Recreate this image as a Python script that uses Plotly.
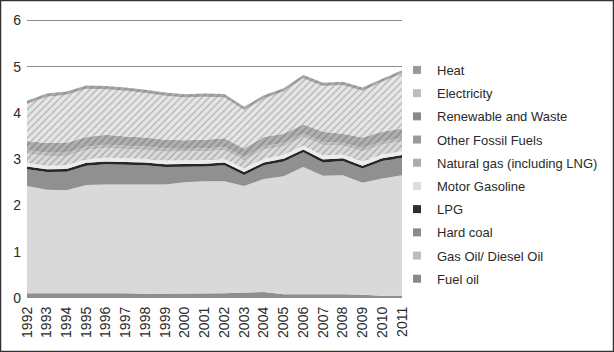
import plotly.graph_objects as go

years = list(range(1992, 2012))

fuel_oil = [0.10, 0.10, 0.10, 0.11, 0.10, 0.10, 0.09, 0.09, 0.09, 0.09,
            0.10, 0.12, 0.13, 0.08, 0.08, 0.09, 0.08, 0.07, 0.05, 0.05]
gas_diesel = [2.32, 2.24, 2.23, 2.33, 2.35, 2.35, 2.36, 2.36, 2.41, 2.43,
              2.42, 2.30, 2.44, 2.55, 2.75, 2.55, 2.57, 2.42, 2.53, 2.60]
hard_coal = [0.36, 0.38, 0.40, 0.42, 0.44, 0.43, 0.42, 0.38, 0.33, 0.32,
             0.35, 0.24, 0.30, 0.32, 0.32, 0.29, 0.31, 0.31, 0.38, 0.38]
lpg = [0.06, 0.06, 0.06, 0.06, 0.06, 0.06, 0.06, 0.06, 0.06, 0.06,
       0.06, 0.06, 0.06, 0.06, 0.06, 0.06, 0.06, 0.06, 0.06, 0.06]
motor_gasoline = [0.08, 0.08, 0.08, 0.08, 0.08, 0.08, 0.08, 0.08, 0.08, 0.08,
                  0.08, 0.08, 0.08, 0.08, 0.08, 0.09, 0.08, 0.09, 0.08, 0.08]
natural_gas = [0.20, 0.21, 0.20, 0.20, 0.21, 0.20, 0.19, 0.19, 0.19, 0.19,
               0.19, 0.18, 0.20, 0.19, 0.19, 0.22, 0.19, 0.22, 0.21, 0.21]
other_fossil = [0.07, 0.07, 0.07, 0.07, 0.07, 0.07, 0.07, 0.07, 0.06, 0.06,
                0.06, 0.06, 0.07, 0.07, 0.07, 0.07, 0.06, 0.07, 0.07, 0.07]
renewable = [0.20, 0.21, 0.21, 0.21, 0.22, 0.20, 0.20, 0.19, 0.19, 0.19,
             0.19, 0.19, 0.20, 0.20, 0.20, 0.22, 0.20, 0.23, 0.21, 0.21]
electricity = [0.80, 1.00, 1.04, 1.04, 0.98, 0.99, 0.96, 0.95, 0.92, 0.93,
               0.89, 0.83, 0.83, 0.91, 1.00, 0.99, 1.05, 1.01, 1.08, 1.19]
heat = [0.07, 0.07, 0.07, 0.07, 0.07, 0.07, 0.07, 0.07, 0.07, 0.07,
        0.07, 0.07, 0.07, 0.07, 0.07, 0.07, 0.07, 0.07, 0.07, 0.07]

y_ticks = [0, 1, 2, 3, 4, 5, 6]

# name, values, fill colour, hatch (fg colour or None), legend marker colour
series = [
    ("Fuel oil", fuel_oil, "#8e8e8e", None, "#8a8a8a"),
    ("Gas Oil/ Diesel Oil", gas_diesel, "#d9d9da", None, "#bdbdbd"),
    ("Hard coal", hard_coal, "#909091", None, "#8a8a8a"),
    ("LPG", lpg, "#262626", None, "#2e2e2e"),
    ("Motor Gasoline", motor_gasoline, "#ececec", None, "#dcdcdc"),
    ("Natural gas (including LNG)", natural_gas, "#dadada", "#a8a8a8", "#ababab"),
    ("Other Fossil Fuels", other_fossil, "#c2c2c2", "#999999", "#9a9a9a"),
    ("Renewable and Waste", renewable, "#b0b0b0", "#858585", "#8a8a8a"),
    ("Electricity", electricity, "#e6e6e6", "#b2b2b2", "#bdbdbd"),
    ("Heat", heat, "#a9a9a9", "#8a8a8a", "#9a9a9a"),
]

fig = go.Figure()
for name, vals, col, hatch, mcol in series:
    kw = {}
    if hatch:
        kw["fillpattern"] = dict(shape="/", fgcolor=hatch, bgcolor=col,
                                 size=5, solidity=0.25, fillmode="replace")
    fig.add_trace(go.Scatter(
        x=years, y=vals, name=name, stackgroup="one", mode="lines",
        line=dict(width=0, color=col), fillcolor=col, showlegend=False,
        hoverinfo="skip", **kw))

# legend entries as small square markers (top of stack listed first)
for i, (name, vals, col, hatch, mcol) in enumerate(reversed(series)):
    fig.add_trace(go.Scatter(
        x=[None], y=[None], name=name, mode="markers",
        marker=dict(symbol="square", size=8, color=mcol),
        legendgroup=f"g{i}", showlegend=True))

T, B, L, R = 18, 54, 27, 212
PH = 352 - T - B
PW = 614 - L - R

fig.update_layout(
    width=614, height=352,
    margin=dict(l=L, r=R, t=T, b=B, autoexpand=False),
    paper_bgcolor="white", plot_bgcolor="white",
    font=dict(family="Liberation Sans, Arial, sans-serif", color="#333333"),
    showlegend=True,
    legend=dict(x=(397 - L) / PW, y=1 - (55 - T) / PH, xanchor="left",
                yanchor="top", traceorder="grouped",
                font=dict(size=13, color="#2a2a2a"),
                tracegroupgap=3.3, itemwidth=30, bgcolor="rgba(0,0,0,0)"),
    xaxis=dict(range=[1992, 2011], tickmode="array", tickvals=years,
               ticktext=[str(y) for y in years], tickangle=-90,
               tickfont=dict(size=14, color="#2a2a2a"), showgrid=False,
               zeroline=False, showline=False, ticks="",
               ticklabelstandoff=5),
    yaxis=dict(range=[0, 6.05], tickmode="array", tickvals=y_ticks,
               tickfont=dict(size=14, color="#2a2a2a"), showgrid=True,
               gridcolor="#8c8c8c", gridwidth=1, zeroline=False,
               showline=False, ticks="", ticklabelstandoff=5),
)

# outer frame of the figure
fig.add_shape(type="rect", xref="paper", yref="paper",
              x0=-(L - 0.5) / PW, x1=(613.5 - L) / PW,
              y0=-(B - 0.5) / PH, y1=1 + (T - 0.5) / PH,
              line=dict(color="#333333", width=1.5), fillcolor="rgba(0,0,0,0)",
              layer="above")

fig.write_html("out.html")
